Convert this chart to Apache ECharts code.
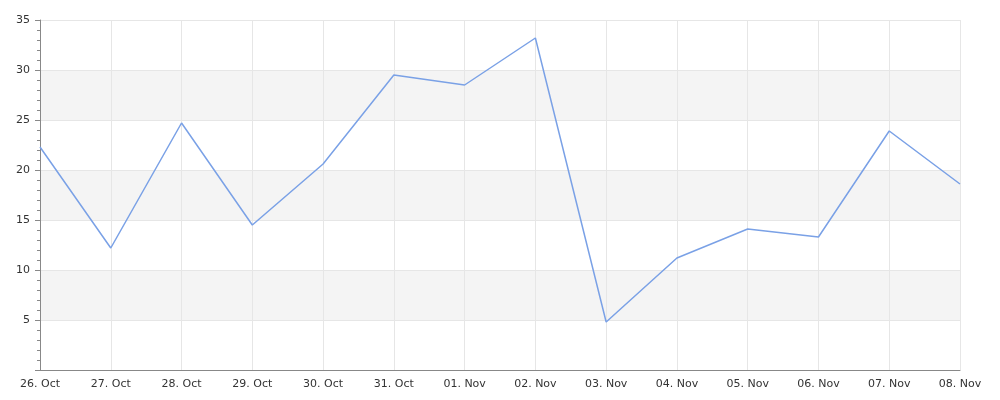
<!DOCTYPE html>
<html><head><meta charset="utf-8">
<script src="https://cdn.jsdelivr.net/npm/echarts@6/dist/echarts.min.js"></script>
<style>html,body{margin:0;padding:0;background:#fff}#c{width:1000px;height:400px}</style>
</head><body><div id="c"></div>
<script>
const categories = ['26. Oct','27. Oct','28. Oct','29. Oct','30. Oct','31. Oct','01. Nov','02. Nov','03. Nov','04. Nov','05. Nov','06. Nov','07. Nov','08. Nov'];
const values = [22.3, 12.2, 24.7, 14.5, 20.6, 29.5, 28.5, 33.2, 4.8, 11.2, 14.1, 13.3, 23.9, 18.6];

const chart = echarts.init(document.getElementById('c'));
chart.setOption({
  animation: false,
  grid: { left: 40, right: 40, top: 20, bottom: 30, containLabel: false },
  xAxis: {
    type: 'category', data: categories, boundaryGap: false,
    axisLine: { lineStyle: { color: '#888', width: 1 } },
    axisTick: { show: false },
    axisLabel: { color: '#333', fontSize: 11, fontFamily: 'DejaVu Sans', margin: 9 },
    splitLine: { show: true, lineStyle: { color: '#e6e6e6', width: 1 } }
  },
  yAxis: {
    type: 'value', min: 0, max: 35, interval: 5,
    axisLine: { show: true, lineStyle: { color: '#888', width: 1 } },
    axisTick: { show: true, length: 5, lineStyle: { color: '#888' } },
    minorTick: { show: true, splitNumber: 5, length: 3, lineStyle: { color: '#888' } },
    axisLabel: { color: '#333', fontSize: 11, fontFamily: 'DejaVu Sans', margin: 10, showMinLabel: false,
      formatter: v => v === 0 ? '' : String(v) },
    splitLine: { show: true, lineStyle: { color: '#e6e6e6', width: 1 } },
    splitArea: { show: true, areaStyle: { color: ['#ffffff', '#f4f4f4'] } }
  },
  series: [{
    type: 'line', data: values, symbol: 'none',
    lineStyle: { color: '#7aa1e6', width: 1.5 }
  }]
});
</script></body></html>
